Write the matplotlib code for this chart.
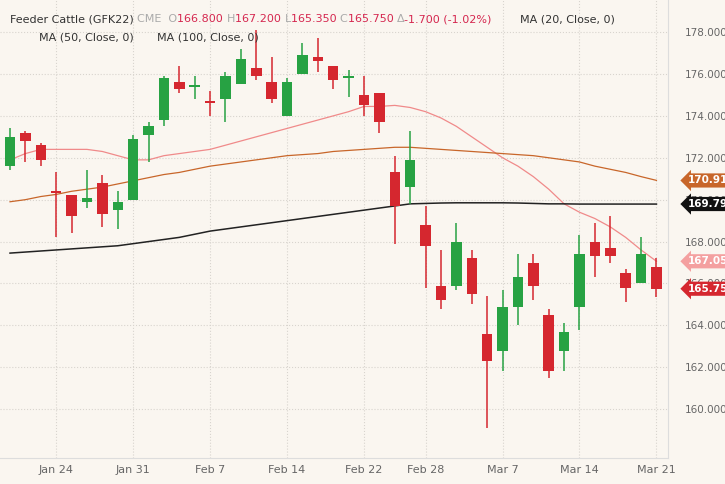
import numpy as np
import matplotlib
matplotlib.use('Agg')
import matplotlib.pyplot as plt

# ── Data ─────────────────────────────────────────────────────────────────────
opens  = [171.6,173.2,172.6,170.4,170.2,169.9,170.8,169.5,170.0,173.1,173.8,175.6,175.4,174.7,174.8,
          175.5,176.3,175.6,174.0,176.0,176.8,176.4,175.8,175.0,175.1,171.3,170.6,168.8,165.9,165.9,
          167.2,163.6,162.8,164.9,167.0,164.5,162.8,164.9,168.0,167.7,166.5,166.0,166.8]
highs  = [173.4,173.3,172.7,171.3,170.2,171.4,171.2,170.4,173.1,173.7,175.9,176.4,175.9,175.2,176.1,
          177.2,178.1,176.8,175.8,177.5,177.7,176.4,176.2,175.9,175.1,172.1,173.3,169.7,167.6,168.9,
          167.6,165.4,165.7,167.4,167.4,164.8,164.1,168.3,168.9,169.2,166.7,168.2,167.2]
lows   = [171.4,171.8,171.6,168.2,168.4,169.6,168.7,168.6,170.0,171.8,173.5,175.1,174.8,174.0,173.7,
          175.5,175.7,174.6,174.0,176.0,176.1,175.3,174.9,174.0,173.2,167.9,169.8,165.8,164.8,165.7,
          165.0,159.1,161.8,164.0,165.2,161.5,161.8,163.8,166.3,167.0,165.1,166.0,165.35]
closes = [173.0,172.8,171.9,170.3,169.2,170.1,169.3,169.9,172.9,173.5,175.8,175.3,175.4,174.6,175.9,
          176.7,175.9,174.8,175.6,176.9,176.6,175.7,175.9,174.5,173.7,169.7,171.9,167.8,165.2,168.0,
          165.5,162.3,164.9,166.3,165.9,161.8,163.7,167.4,167.3,167.3,165.8,167.4,165.75]
ma20  = [171.9,172.2,172.4,172.4,172.4,172.4,172.3,172.1,171.9,171.9,172.1,172.2,172.3,172.4,172.6,
         172.8,173.0,173.2,173.4,173.6,173.8,174.0,174.2,174.45,174.45,174.5,174.4,174.2,173.9,173.5,
         173.0,172.5,172.0,171.6,171.1,170.5,169.8,169.4,169.1,168.7,168.2,167.6,167.06]
ma50  = [169.9,170.0,170.15,170.25,170.4,170.5,170.6,170.75,170.9,171.05,171.2,171.3,171.45,171.6,171.7,
         171.8,171.9,172.0,172.1,172.15,172.2,172.3,172.35,172.4,172.45,172.5,172.5,172.45,172.4,172.35,
         172.3,172.25,172.2,172.15,172.1,172.0,171.9,171.8,171.6,171.45,171.3,171.1,170.92]
ma100 = [167.45,167.5,167.55,167.6,167.65,167.7,167.75,167.8,167.9,168.0,168.1,168.2,168.35,168.5,168.6,
         168.7,168.8,168.9,169.0,169.1,169.2,169.3,169.4,169.5,169.6,169.7,169.8,169.82,169.84,169.85,
         169.85,169.85,169.85,169.84,169.82,169.8,169.8,169.79,169.79,169.79,169.79,169.79,169.79]
tick_idx    = [3, 8, 13, 18, 23, 27, 32, 37, 42]
tick_labels = ["Jan 24", "Jan 31", "Feb 7", "Feb 14", "Feb 22", "Feb 28", "Mar 7", "Mar 14", "Mar 21"]
y_ticks = [160, 162, 164, 166, 168, 170, 172, 174, 176, 178]

BG = "#faf6f0"
UP, DOWN = "#27a243", "#d5272f"

fig = plt.figure(figsize=(7.25, 4.84), dpi=100)
fig.patch.set_facecolor(BG)
ax = fig.add_axes([0, 1 - 458/484, 668/725, 458/484])
ax.set_facecolor(BG)

x = np.arange(len(opens))
for i in x:
    o, h, l, c = opens[i], highs[i], lows[i], closes[i]
    col = UP if c >= o else DOWN
    ax.vlines(i, l, h, color=col, lw=1.1, zorder=3)
    lo, hi = min(o, c), max(o, c)
    ax.bar(i, max(hi - lo, 0.08), bottom=lo, width=0.68, color=col, zorder=4)

ax.plot(x, ma20, color="#f08a8a", lw=0.9, zorder=2)
ax.plot(x, ma50, color="#c8662a", lw=0.9, zorder=2)
ax.plot(x, ma100, color="#222222", lw=1.1, zorder=2)

ax.set_xlim(-0.65, 42.75)
ax.set_ylim(157.67, 179.53)
ax.set_xticks(tick_idx)
ax.set_xticklabels(tick_labels, fontsize=8, color="#666666")
ax.set_yticks(y_ticks)
ax.yaxis.tick_right()
ax.set_yticklabels([f"{v:.3f}" for v in y_ticks], fontsize=7.5, color="#666666")
ax.tick_params(length=0, pad=5)
ax.tick_params(axis='y', pad=12)
ax.grid(True, color="#d8d4ce", linestyle=":", lw=0.8)
for s in ["top", "left"]:
    ax.spines[s].set_visible(False)
ax.spines["right"].set_color("#dddddd")
ax.spines["bottom"].set_color("#dddddd")

# Price tags on the right axis
for val, col in [(170.916, "#c8662a"), (169.792, "#111111"),
                 (167.059, "#f4a0a0"), (165.750, "#d5272f")]:
    ax.text(1.03, val, f"{val:.3f}", transform=ax.get_yaxis_transform(), fontsize=7.5,
            fontweight="bold", color="white", va="center", ha="left",
            bbox=dict(boxstyle="larrow,pad=0.2", fc=col, ec="none"), clip_on=False)

# Header text, laid out piece by piece
fig.canvas.draw()
renderer = fig.canvas.get_renderer()

def chain(parts, x0, y0, fs=8):
    xp = x0
    for s, c in parts:
        t = fig.text(xp, y0, s, fontsize=fs, color=c, transform=None)
        xp += t.get_window_extent(renderer).width

H = 484
chain([("Feeder Cattle (GFK22) ", "#333333"), ("CME  O", "#aaaaaa"), ("166.800 ", "#d5274f"),
       ("H", "#aaaaaa"), ("167.200 ", "#d5274f"), ("L", "#aaaaaa"), ("165.350 ", "#d5274f"),
       ("C", "#aaaaaa"), ("165.750 ", "#d5274f"), ("\u0394", "#aaaaaa"),
       ("-1.700 (-1.02%)", "#d5274f")], 10, H - 22)
fig.text(520, H - 22, "MA (20, Close, 0)", fontsize=8, color="#333333", transform=None)
fig.text(39, H - 40, "MA (50, Close, 0)", fontsize=8, color="#333333", transform=None)
fig.text(157, H - 40, "MA (100, Close, 0)", fontsize=8, color="#333333", transform=None)

fig.savefig("out.png", dpi=100, facecolor=BG)
